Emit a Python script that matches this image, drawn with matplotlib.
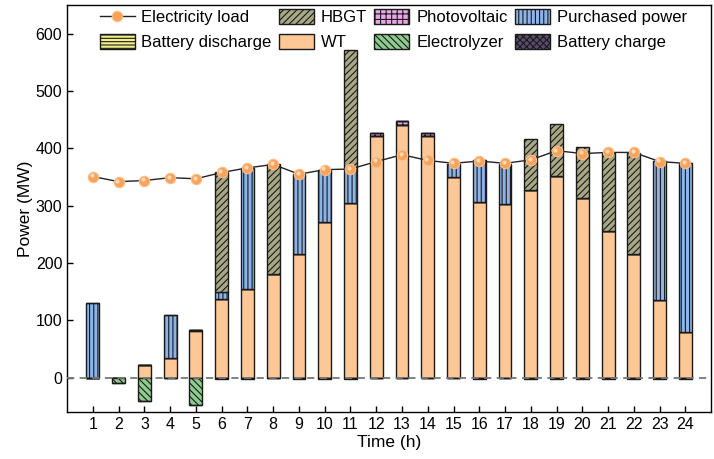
import matplotlib
matplotlib.use("Agg")
import matplotlib.pyplot as plt
import numpy as np

plt.rcParams['font.family'] = ['Liberation Sans', 'DejaVu Sans']
plt.rcParams['hatch.linewidth'] = 0.8

hours = list(range(1, 25))
wt = [0, 0, 22, 34, 81, 138, 154, 181, 216, 272, 305, 421, 441, 422,
      351, 307, 303, 327, 352, 314, 256, 215, 135, 79]
battery_discharge = [0, 0, 0, 0, 2, 0, 0, 0, 0, 0, 0, 0, 0, 0,
                     0, 0, 0, 0, 0, 0, 0, 0, 0, 0]
photovoltaic = [0, 0, 0, 0, 0, 0, 0, 0, 0, 0, 0, 5, 6, 5,
                0, 0, 0, 0, 0, 0, 0, 0, 0, 0]
purchased = [130, 0, 0, 76, 0, 12, 212, 0, 139, 91, 59, 0, 0, 0,
             22, 73, 70, 0, 0, 0, 0, 0, 243, 295]
hbgt = [0, 0, 0, 0, 0, 208, 0, 191, 0, 0, 208, 0, 0, 0,
        0, 0, 0, 90, 91, 88, 136, 177, 0, 0]
electrolyzer = [0, -9, -41, 0, -48, 0, 0, 0, 0, 0, 0, 0, 0, 0,
                0, 0, 0, 0, 0, 0, 0, 0, 0, 0]
battery_charge = [0, 0, 0, 0, 0, -1.5, -1.5, -1, -1.5, -1.5, -1.5, 0, 0, 0,
                  -1, -1.5, -1, -1.5, -1.5, -1.5, -1.5, -1.5, -1.5, -1.5]
load = [351, 342, 344, 349, 347, 358, 366, 372, 355, 363, 364, 377, 389, 379,
        374, 378, 374, 380, 396, 391, 393, 393, 377, 374]

x = np.array(hours)
fig = plt.figure(figsize=(7.14, 4.59), dpi=100)
ax = fig.add_axes([0.094, 0.102, 0.902, 0.887])

w = 0.5
ec = '#1a1a1a'
bottom = np.zeros(24)
h_wt = ax.bar(x, wt, w, bottom=bottom, color='#FDC896', edgecolor=ec, lw=1.0,
              label='WT', zorder=3)
bottom += np.array(wt)
h_bd = ax.bar(x, battery_discharge, w, bottom=bottom, color='#F3F08A', edgecolor=ec,
              lw=1.0, hatch='-----', label='Battery discharge', zorder=3)
bottom += np.array(battery_discharge)
h_pv = ax.bar(x, photovoltaic, w, bottom=bottom, color='#E8A6E6', edgecolor=ec,
              lw=1.0, hatch='+++', label='Photovoltaic', zorder=3)
bottom += np.array(photovoltaic)
h_pp = ax.bar(x, purchased, w, bottom=bottom, color='#8DB3E8', edgecolor=ec,
              lw=1.0, hatch='||||', label='Purchased power', zorder=3)
bottom += np.array(purchased)
h_hb = ax.bar(x, hbgt, w, bottom=bottom, color='#A8A887', edgecolor=ec,
              lw=1.0, hatch='/////', label='HBGT', zorder=3)

nbottom = np.zeros(24)
h_el = ax.bar(x, electrolyzer, w, bottom=nbottom, color='#8ECB8E', edgecolor=ec,
              lw=1.0, hatch='\\\\\\\\\\', label='Electrolyzer', zorder=3)
nbottom += np.array(electrolyzer)
h_bc = ax.bar(x, battery_charge, w, bottom=nbottom, color='#5B4A6E', edgecolor=ec,
              lw=1.0, hatch='xxxxx', label='Battery charge', zorder=3)

ax.axhline(0, color='#777777', lw=1.3, ls=(0, (4, 3)), zorder=4)

h_ld, = ax.plot(x, load, '-', color='#222222', lw=1.0, marker='o', ms=7.5,
                mfc='#F7A35A', mec='#FAC08C', mew=0.8, label='Electricity load',
                zorder=5)
ax.plot(x - 0.05, np.array(load) + 2, 'o', ms=3, color='#FCD9B8', mew=0,
        zorder=6)

ax.set_xlim(0, 25)
ax.set_ylim(-60, 650)
ax.set_xticks(hours)
ax.set_xticklabels([str(h) for h in hours])
ax.set_yticks([0, 100, 200, 300, 400, 500, 600])
ax.tick_params(direction='in', labelsize=11.5, length=4, width=1)
ax.set_xlabel('Time (h)', fontsize=12.5, labelpad=2)
ax.set_ylabel('Power (MW)', fontsize=12.5, labelpad=2)
for s in ax.spines.values():
    s.set_linewidth(1.0)

handles = [h_ld, h_bd, h_hb, h_wt, h_pv, h_el, h_pp, h_bc]
leg = ax.legend(handles=handles, ncol=4, loc='upper left',
                bbox_to_anchor=(0.035, 1.015), frameon=False, fontsize=12,
                handlelength=2.1, handleheight=1.0, columnspacing=0.45,
                handletextpad=0.4, labelspacing=0.55, borderaxespad=0.2)

fig.savefig('out.png', dpi=100)
